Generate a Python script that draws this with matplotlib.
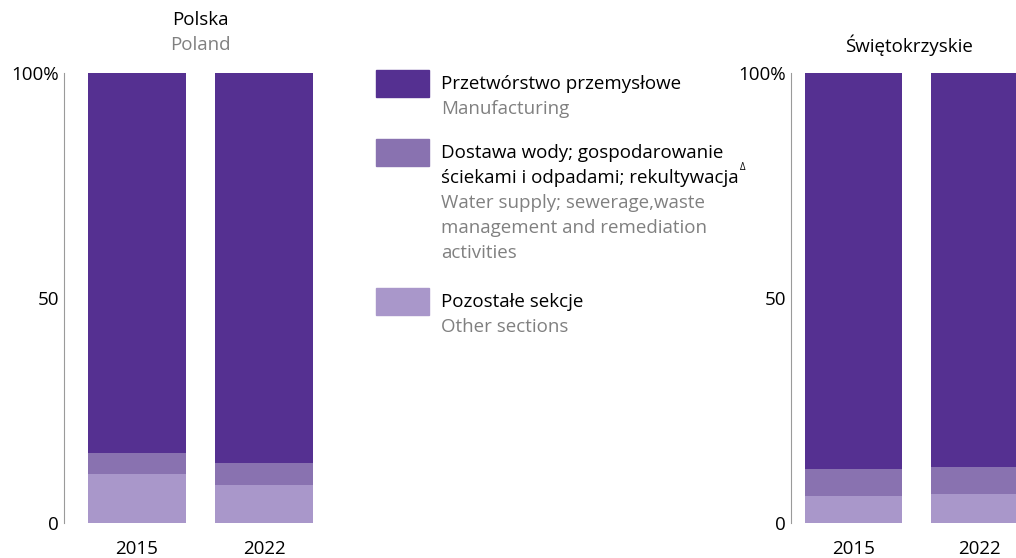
import matplotlib
matplotlib.use("Agg")
import matplotlib.pyplot as plt
import numpy as np

plt.rcParams['font.family'] = ['Open Sans', 'DejaVu Sans']

years = ["2015", "2022"]
poland_manufacturing = [84.5, 86.7]
poland_water = [4.7, 4.9]
poland_other = [10.8, 8.4]
swiet_manufacturing = [88.1, 87.6]
swiet_water = [6.0, 6.0]
swiet_other = [5.9, 6.4]

yticks = [0, 50, 100]
ytick_labels = ["0", "50", "100%"]

legend_pl = ["Przetwórstwo przemysłowe",
             "Dostawa wody; gospodarowanie\nściekami i odpadami; rekultywacja",
             "Pozostałe sekcje"]
legend_en = ["Manufacturing",
             "Water supply; sewerage,waste\nmanagement and remediation\nactivities",
             "Other sections"]

c_dark = "#553091"
c_mid = "#8972B0"
c_light = "#A997CA"
gray = "#808080"
FS = 13.5

W, H = 1016, 558
fig = plt.figure(figsize=(W / 100, H / 100), dpi=100)

def px_axes(x0, y_top, w, h):
    return fig.add_axes([x0 / W, (H - y_top - h) / H, w / W, h / H])

def draw_panel(ax, manu, water, other, xl, xr):
    x = np.arange(len(years))
    width = 0.77
    ax.bar(x, other, width, color=c_light)
    ax.bar(x, water, width, bottom=other, color=c_mid)
    ax.bar(x, manu, width, bottom=np.array(other) + np.array(water), color=c_dark)
    ax.set_xlim(xl, xr)
    ax.set_ylim(0, 100)
    for s in ["top", "right", "bottom"]:
        ax.spines[s].set_visible(False)
    ax.spines["left"].set_color("#9a9a9a")
    ax.spines["left"].set_linewidth(0.8)
    ax.set_yticks(yticks)
    ax.set_yticklabels(ytick_labels, fontsize=FS)
    ax.tick_params(axis="y", length=0, pad=3.5)
    ax.set_xticks(x)
    ax.set_xticklabels(years, fontsize=FS)
    ax.tick_params(axis="x", length=0, pad=12.5)
    ax.patch.set_alpha(0)

# Left panel
ax1 = px_axes(64, 72.7, 2.075 * 127, 450)
draw_panel(ax1, poland_manufacturing, poland_water, poland_other, -0.575, 1.5)
fig.text(200 / W, 1 - 20 / H, "Polska", ha="center", va="center", fontsize=FS, color="black")
fig.text(200 / W, 1 - 45 / H, "Poland", ha="center", va="center", fontsize=FS, color=gray)

# Right panel
ax2 = px_axes(790.7, 72.7, 2.0 * 125.5, 450)
draw_panel(ax2, swiet_manufacturing, swiet_water, swiet_other, -0.5, 1.5)
fig.text(909 / W, 1 - 45 / H, "Świętokrzyskie", ha="center", va="center", fontsize=FS, color="black")

# Legend
sq_x, sq_w, sq_h = 376, 53, 27
tx = 441
colors = [c_dark, c_mid, c_light]
sq_tops = [70, 139, 288]
line_h = 25
fig.canvas.draw()
renderer = fig.canvas.get_renderer()
for i in range(3):
    top = sq_tops[i]
    fig.patches.append(plt.Rectangle((sq_x / W, 1 - (top + sq_h) / H), sq_w / W, sq_h / H,
                                     transform=fig.transFigure, color=colors[i]))
    pl_lines = legend_pl[i].split("\n")
    en_lines = legend_en[i].split("\n")
    yc = top + 14
    for j, ln in enumerate(pl_lines):
        t = fig.text(tx / W, 1 - yc / H, ln, ha="left", va="center", fontsize=FS, color="black")
        if i == 1 and j == len(pl_lines) - 1:
            bb = t.get_window_extent(renderer=renderer)
            fig.text((bb.x1 + 1) / W, 1 - (yc - 10) / H, "Δ", ha="left", va="center",
                     fontsize=7, color="black")
        yc += line_h
    for ln in en_lines:
        fig.text(tx / W, 1 - yc / H, ln, ha="left", va="center", fontsize=FS, color=gray)
        yc += line_h

fig.savefig("out.png", dpi=100)
